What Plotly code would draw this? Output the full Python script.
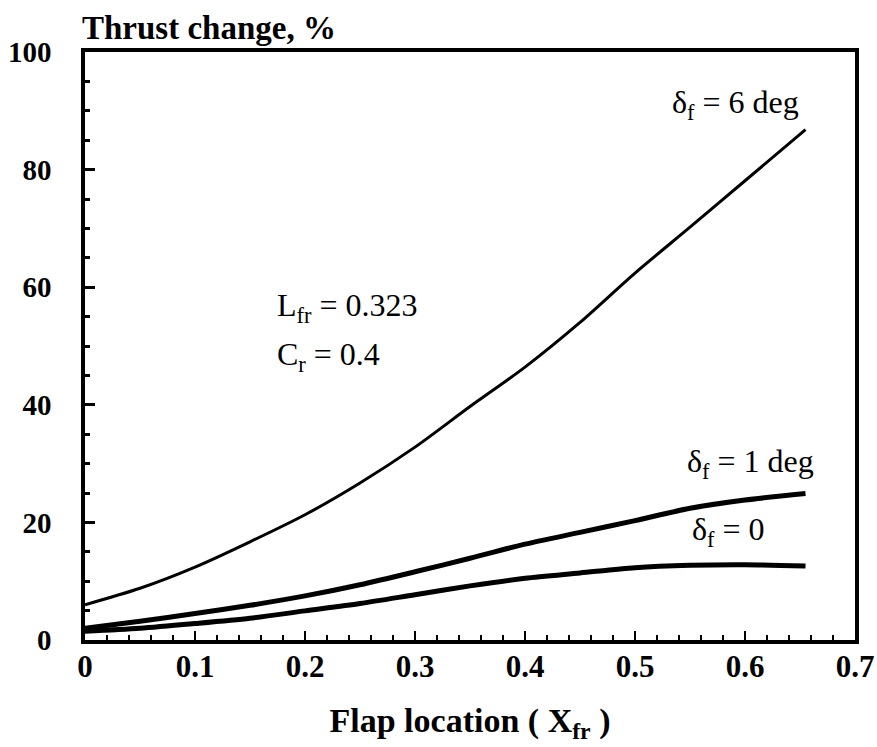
import plotly.graph_objects as go

# Flap location (X_fr)
x_flap = [0.0, 0.05, 0.1, 0.15, 0.2, 0.25, 0.3, 0.35, 0.4, 0.45, 0.5, 0.55, 0.6, 0.655]
# Thrust change, %
thrust_6deg = [6.0, 8.8, 12.4, 16.7, 21.3, 26.7, 32.8, 39.7, 46.4, 54.0, 62.4, 70.2, 78.1, 86.8]
thrust_1deg = [2.0, 3.2, 4.5, 5.9, 7.5, 9.4, 11.6, 13.9, 16.3, 18.3, 20.3, 22.4, 23.8, 24.9]
thrust_0deg = [1.5, 2.0, 2.8, 3.7, 4.95, 6.2, 7.7, 9.2, 10.5, 11.4, 12.3, 12.7, 12.8, 12.6]

x_ticks = [0, 0.1, 0.2, 0.3, 0.4, 0.5, 0.6, 0.7]
x_ticklabels = ["0", "0.1", "0.2", "0.3", "0.4", "0.5", "0.6", "0.7"]
y_ticks = [0, 20, 40, 60, 80, 100]
y_ticklabels = ["0", "20", "40", "60", "80", "100"]

SERIF = "Liberation Serif, Times New Roman, serif"

fig = go.Figure()
fig.add_trace(go.Scatter(x=x_flap, y=thrust_6deg, mode="lines", line=dict(color="black", width=3, shape="spline", smoothing=0.8), showlegend=False))
fig.add_trace(go.Scatter(x=x_flap, y=thrust_1deg, mode="lines", line=dict(color="black", width=5, shape="spline", smoothing=0.8), showlegend=False))
fig.add_trace(go.Scatter(x=x_flap, y=thrust_0deg, mode="lines", line=dict(color="black", width=5, shape="spline", smoothing=0.8), showlegend=False))

ann_font = dict(family=SERIF, size=32, color="black")
annotations = [
    dict(x=0.532, y=91.0, text="δ<sub>f</sub> = 6 deg"),
    dict(x=0.1727, y=56.6, text="L<sub>fr</sub> = 0.323"),
    dict(x=0.1727, y=48.3, text="C<sub>r</sub> = 0.4"),
    dict(x=0.5455, y=30.1, text="δ<sub>f</sub> = 1 deg"),
    dict(x=0.55, y=18.4, text="δ<sub>f</sub> = 0"),
]
for a in annotations:
    fig.add_annotation(x=a["x"], y=a["y"], text=a["text"], xref="x", yref="y",
                       xanchor="left", yanchor="middle", showarrow=False, font=ann_font)

# y-axis title at top-left
fig.add_annotation(x=-0.006, y=1.0, xref="paper", yref="paper", text="<b>Thrust change, %</b>",
                   xanchor="left", yanchor="bottom", yshift=4, showarrow=False,
                   font=dict(family=SERIF, size=33, color="black"))

fig.update_xaxes(range=[0, 0.7], tickvals=x_ticks, ticktext=x_ticklabels, automargin=False,
                 showline=True, linewidth=3.5, linecolor="black", mirror=True,
                 ticks="inside", ticklen=9, tickwidth=2, tickcolor="black",
                 minor=dict(dtick=0.02, ticks="inside", ticklen=5, tickwidth=1.5, tickcolor="black"),
                 showgrid=False, zeroline=False,
                 tickfont=dict(family=SERIF, size=31, color="black", weight="bold"), ticklabelstandoff=-4,
                 title=dict(text="<b>Flap location ( X<sub>fr</sub> )</b>", font=dict(family=SERIF, size=34, color="black"), standoff=26))
fig.update_yaxes(range=[0, 100], tickvals=y_ticks, ticktext=y_ticklabels, automargin=False,
                 showline=True, linewidth=3.5, linecolor="black", mirror=True,
                 ticks="inside", ticklen=10, tickwidth=3, tickcolor="black",
                 minor=dict(dtick=5, ticks="inside", ticklen=5, tickwidth=2.5, tickcolor="black"),
                 showgrid=False, zeroline=False,
                 tickfont=dict(family=SERIF, size=29, color="black", weight="bold"), ticklabelstandoff=24)

fig.update_layout(width=877, height=747, margin=dict(l=85, r=22, t=52, b=107, autoexpand=False),
                  paper_bgcolor="white", plot_bgcolor="white",
                  font=dict(family=SERIF, color="black"))

# remove the page's default body margin so the figure fills the window exactly
fig.write_html("out.html", config={"displayModeBar": False},
               post_script="document.body.style.margin='0';document.body.style.overflow='hidden';")
